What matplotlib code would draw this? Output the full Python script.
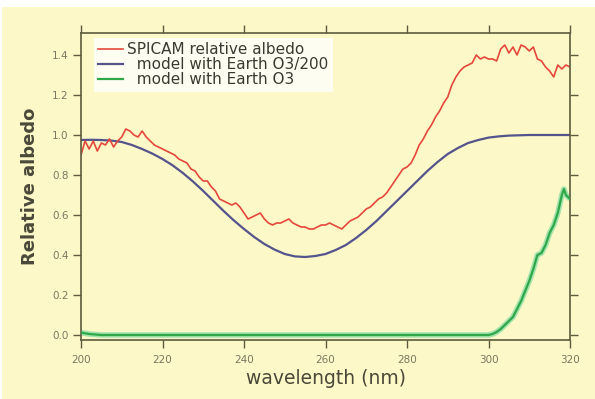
import numpy as np
import matplotlib
matplotlib.use("Agg")
import matplotlib.pyplot as plt
from matplotlib.patches import Rectangle

# SPICAM relative albedo, 1 nm steps from 200 to 320 nm
spicam_nm = list(range(200, 321))
spicam_albedo = [
    0.90, 0.97, 0.93, 0.97, 0.92, 0.96, 0.95, 0.98, 0.94, 0.97,
    0.99, 1.03, 1.02, 1.00, 0.99, 1.02, 0.99, 0.97, 0.95, 0.94,
    0.93, 0.92, 0.91, 0.90, 0.88, 0.87, 0.86, 0.83, 0.82, 0.79,
    0.77, 0.77, 0.74, 0.72, 0.68, 0.67, 0.66, 0.65, 0.66, 0.64,
    0.61, 0.58, 0.59, 0.60, 0.61, 0.58, 0.56, 0.55, 0.56, 0.56,
    0.57, 0.58, 0.56, 0.55, 0.54, 0.54, 0.53, 0.53, 0.54, 0.55,
    0.55, 0.56, 0.55, 0.54, 0.53, 0.55, 0.57, 0.58, 0.59, 0.61,
    0.63, 0.64, 0.66, 0.68, 0.69, 0.71, 0.74, 0.77, 0.80, 0.83,
    0.84, 0.86, 0.90, 0.95, 0.98, 1.02, 1.05, 1.09, 1.12, 1.16,
    1.19, 1.25, 1.29, 1.32, 1.34, 1.35, 1.36, 1.40, 1.38, 1.39,
    1.38, 1.38, 1.37, 1.43, 1.45, 1.41, 1.44, 1.40, 1.45, 1.44,
    1.42, 1.44, 1.38, 1.37, 1.34, 1.32, 1.29, 1.35, 1.33, 1.35,
    1.34,
]

# model with Earth O3/200
model200_nm = [200, 202.5, 205, 207.5, 210, 212.5, 215, 217.5, 220, 222.5,
               225, 227.5, 230, 232.5, 235, 237.5, 240, 242.5, 245, 247.5,
               250, 252.5, 255, 257.5, 260, 262.5, 265, 267.5, 270, 272.5,
               275, 277.5, 280, 282.5, 285, 287.5, 290, 292.5, 295, 297.5,
               300, 302.5, 305, 310, 315, 320]
model200_albedo = [0.975, 0.976, 0.975, 0.972, 0.965, 0.95, 0.93, 0.907, 0.88,
                   0.848, 0.81, 0.767, 0.72, 0.67, 0.62, 0.573, 0.53, 0.49,
                   0.455, 0.427, 0.405, 0.393, 0.39, 0.395, 0.405, 0.425, 0.45,
                   0.485, 0.525, 0.57, 0.62, 0.67, 0.72, 0.77, 0.82, 0.865,
                   0.905, 0.935, 0.96, 0.975, 0.987, 0.993, 0.997, 1.0, 1.0,
                   1.0]

# model with Earth O3
model_nm = [200, 202, 205, 250, 300, 301, 302, 303, 304, 305, 306, 307, 308,
            309, 310, 311, 312, 313, 314, 315, 316, 317, 318, 318.5, 319, 320]
model_albedo = [0.012, 0.005, 0.0, 0.0, 0.0, 0.005, 0.015, 0.03, 0.05, 0.07,
                0.09, 0.13, 0.17, 0.22, 0.27, 0.33, 0.40, 0.41, 0.45, 0.51,
                0.55, 0.61, 0.70, 0.73, 0.70, 0.68]

x_ticks = [200, 220, 240, 260, 280, 300, 320]
y_ticks = [0.0, 0.2, 0.4, 0.6, 0.8, 1.0, 1.2, 1.4]

bg = '#fcf8c8'
axis_col = '#5e5b3e'
text_col = '#4a4838'

plt.rcParams['font.family'] = ['DejaVu Sans']

fig = plt.figure(figsize=(5.95, 3.99), dpi=100, facecolor='white')
fig.patches.append(Rectangle((2 / 595, 0), 1, 1 - 7 / 399, transform=fig.transFigure,
                             facecolor=bg, edgecolor='none', zorder=-10))
ax = fig.add_axes([81 / 595, 1 - 340 / 399, 489 / 595, 307 / 399])
ax.set_facecolor(bg)

ax.plot(model_nm, model_albedo, color='#a3e2ab', lw=4, solid_capstyle='butt')
ax.plot(model_nm, model_albedo, color='#2fa84a', lw=1.6,
        label='  model with Earth O3', zorder=3)
ax.plot(model200_nm, model200_albedo, color='#55538c', lw=1.6,
        label='  model with Earth O3/200')
ax.plot(spicam_nm, spicam_albedo, color='#e5473a', lw=1.2,
        label='SPICAM relative albedo')

ax.set_xlim(200, 320)
ax.set_ylim(-0.025, 1.51)
ax.set_xticks(x_ticks)
ax.set_yticks(y_ticks)
ax.set_yticklabels(['%.1f' % v for v in y_ticks])

for s in ax.spines.values():
    s.set_color(axis_col)
    s.set_linewidth(1.2)
ax.tick_params(which='both', direction='out', length=6, width=1, color=axis_col,
               labelsize=7.5, labelcolor='#7a7860', top=True, right=True,
               labeltop=False, labelright=False, pad=3)
ax.tick_params(axis='x', pad=5)

ax.set_xlabel('wavelength (nm)', fontsize=13.5, color=text_col, labelpad=3)
ax.set_ylabel('Relative albedo', fontsize=13, color=text_col, fontweight='bold',
              labelpad=9)

handles, labels = ax.get_legend_handles_labels()
order = [2, 1, 0]
leg = ax.legend([handles[i] for i in order], [labels[i] for i in order],
                loc='upper left', bbox_to_anchor=(0.026, 0.985), borderaxespad=0,
                fontsize=11, labelspacing=0.0, handlelength=1.6,
                handletextpad=0.3, borderpad=0.3, frameon=True, fancybox=False)
leg.get_frame().set_facecolor('white')
leg.get_frame().set_alpha(0.75)
leg.get_frame().set_edgecolor('none')
for t in leg.get_texts():
    t.set_color('#3a3a32')

fig.savefig('out.png', dpi=100, facecolor=fig.get_facecolor())
